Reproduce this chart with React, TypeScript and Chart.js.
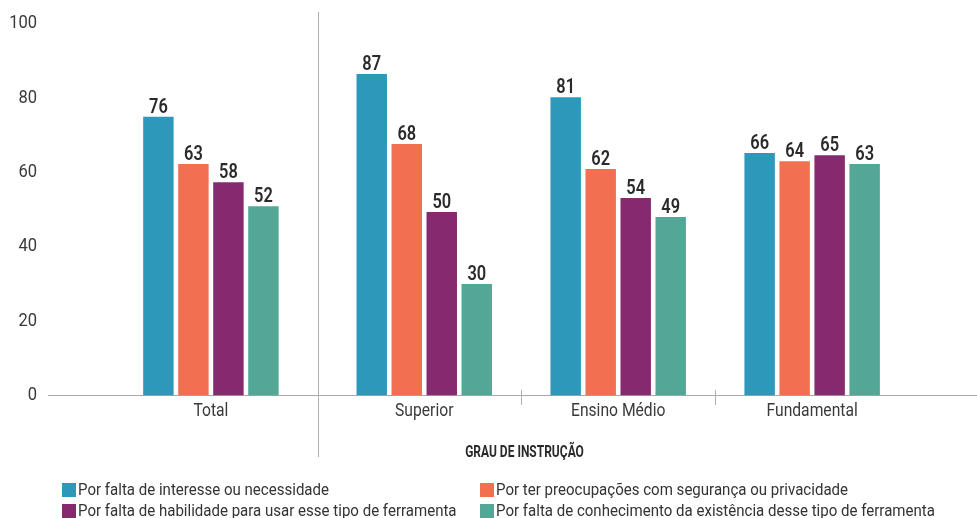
import React, { useEffect, useRef } from "react";
import { Chart, registerables } from "chart.js";

Chart.register(...registerables);

// ---- data ----
const categories = ["Total", "Superior", "Ensino Médio", "Fundamental"];
const seriesNames = [
  "Por falta de interesse ou necessidade",
  "Por ter preocupações com segurança ou privacidade",
  "Por falta de habilidade para usar esse tipo de ferramenta",
  "Por falta de conhecimento da existência desse tipo de ferramenta",
];
const interesse = [74.9, 86.4, 80.2, 65.2];
const seguranca = [62.2, 67.6, 60.9, 63.0];
const habilidade = [57.3, 49.3, 53.1, 64.6];
const conhecimento = [50.9, 30.0, 48.0, 62.2];
const interesseLabels = [76, 87, 81, 66];
const segurancaLabels = [63, 68, 62, 64];
const habilidadeLabels = [58, 50, 54, 65];
const conhecimentoLabels = [52, 30, 49, 63];
const yTicks = [0, 20, 40, 60, 80, 100];
const xTitle = "GRAU DE INSTRUÇÃO";

// ---- styles ----
const FONT = "Roboto, 'Noto Sans', sans-serif";
const COLORS = ["#2E98BB", "#F26F52", "#862A70", "#53A797"];
const FIRST_GROUP_EXTRA_GAP = 0.1;
const TEXT_COLOR = "#3a3a3a";
const LABEL_COLOR = "#2a2a2a";

const series = [
  { name: seriesNames[0], values: interesse, labels: interesseLabels, color: COLORS[0] },
  { name: seriesNames[1], values: seguranca, labels: segurancaLabels, color: COLORS[1] },
  { name: seriesNames[2], values: habilidade, labels: habilidadeLabels, color: COLORS[2] },
  { name: seriesNames[3], values: conhecimento, labels: conhecimentoLabels, color: COLORS[3] },
];

const positions = categories.map((_, i) => i + (i > 0 ? FIRST_GROUP_EXTRA_GAP : 0));

// draws horizontally condensed text
function condensedText(
  ctx: CanvasRenderingContext2D,
  text: string,
  x: number,
  y: number,
  font: string,
  color: string,
  align: CanvasTextAlign,
  baseline: CanvasTextBaseline,
  sx: number
) {
  ctx.save();
  ctx.translate(x, y);
  ctx.scale(sx, 1);
  ctx.font = font;
  ctx.fillStyle = color;
  ctx.textAlign = align;
  ctx.textBaseline = baseline;
  ctx.fillText(text, 0, 0);
  ctx.restore();
}

const textPlugin = {
  id: "condensedTexts",
  afterDatasetsDraw(chart: any) {
    const ctx = chart.ctx as CanvasRenderingContext2D;
    const xs = chart.scales.x;
    const ys = chart.scales.y;
    const area = chart.chartArea;
    // value labels
    chart.data.datasets.forEach((_ds: any, k: number) => {
      const meta = chart.getDatasetMeta(k);
      meta.data.forEach((el: any, i: number) => {
        condensedText(ctx, String(series[k].labels[i]), el.x, el.y - 4, `600 20px ${FONT}`, LABEL_COLOR, "center", "alphabetic", 0.82);
      });
    });
    // y tick labels
    yTicks.forEach((v) => {
      condensedText(ctx, String(v), ys.right - 11, ys.getPixelForValue(v), `19px ${FONT}`, TEXT_COLOR, "right", "middle", 0.87);
    });
    // x tick labels
    categories.forEach((c, i) => {
      condensedText(ctx, c, xs.getPixelForTick(i), area.bottom + 16, `18px ${FONT}`, TEXT_COLOR, "center", "middle", 0.87);
    });
    // x title
    condensedText(ctx, xTitle, (xs.left + xs.right) / 2 + 12, area.bottom + 57, `bold 16px ${FONT}`, LABEL_COLOR, "center", "middle", 0.75);
  },
};

const separatorPlugin = {
  id: "separators",
  afterDraw(chart: any) {
    const ctx = chart.ctx;
    const xs = chart.scales.x;
    const area = chart.chartArea;
    ctx.save();
    ctx.strokeStyle = "#b0b0b0";
    ctx.lineWidth = 1;
    for (let i = 1; i < xs.ticks.length; i++) {
      const mid = Math.round((xs.getPixelForTick(i - 1) + xs.getPixelForTick(i)) / 2) + 0.5;
      ctx.beginPath();
      if (i === 1) {
        ctx.moveTo(mid, area.top - 11.5);
        ctx.lineTo(mid, area.bottom + 61.5);
      } else {
        ctx.moveTo(mid, area.bottom - 5.5);
        ctx.lineTo(mid, area.bottom + 9.5);
      }
      ctx.stroke();
    }
    ctx.restore();
  },
};

export default function App() {
  const canvasRef = useRef<HTMLCanvasElement | null>(null);

  useEffect(() => {
    document.body.style.margin = "0";
    const canvas = canvasRef.current;
    if (!canvas) return;
    const chart = new Chart(canvas, {
      type: "bar",
      data: {
        datasets: series.map((s) => ({
          label: s.name,
          data: s.values.map((v, i) => ({ x: positions[i], y: v })),
          backgroundColor: s.color,
          borderWidth: 0,
          categoryPercentage: 0.722,
          barPercentage: 0.87,
        })),
      },
      options: {
        animation: false,
        responsive: true,
        maintainAspectRatio: false,
        layout: { padding: { top: 23.5, left: 0, right: 0, bottom: 0 } },
        plugins: { legend: { display: false }, tooltip: { enabled: false } },
        scales: {
          x: {
            type: "linear",
            min: -0.84,
            max: 3.95,
            offset: false,
            afterBuildTicks: (s: any) => {
              s.ticks = positions.map((v) => ({ value: v }));
            },
            afterFit: (s: any) => {
              s.height = 122.5;
            },
            grid: { display: false, drawTicks: false },
            border: { display: true, color: "#a8a8a8", width: 1 },
            ticks: { display: false, autoSkip: false, maxRotation: 0 },
            title: { display: false, text: xTitle },
          } as any,
          y: {
            min: 0,
            max: 100,
            afterBuildTicks: (s: any) => {
              s.ticks = yTicks.map((v) => ({ value: v }));
            },
            afterFit: (s: any) => {
              s.width = 48;
            },
            grid: { display: false, drawTicks: false },
            border: { display: false },
            ticks: { display: false },
          } as any,
        },
      },
      plugins: [textPlugin, separatorPlugin],
    });
    return () => chart.destroy();
  }, []);

  return (
    <div style={{ position: "relative", width: 977, height: 518 }}>
      <canvas ref={canvasRef} />
      <div
        style={{
          position: "absolute",
          left: 62,
          top: 479,
          display: "grid",
          gridTemplateColumns: "418px 480px",
          fontFamily: FONT,
          fontSize: 17,
          lineHeight: "21px",
          color: "#333",
          whiteSpace: "nowrap",
        }}
      >
        {series.map((s) => (
          <div key={s.name} style={{ display: "flex", alignItems: "center", overflow: "visible" }}>
            <span
              style={{ display: "inline-block", flexShrink: 0, width: 14, height: 14, background: s.color, marginRight: 2 }}
            />
            <span style={{ display: "inline-block", flexShrink: 0, transform: "scaleX(0.885)", transformOrigin: "left center" }}>
              {s.name}
            </span>
          </div>
        ))}
      </div>
    </div>
  );
}
